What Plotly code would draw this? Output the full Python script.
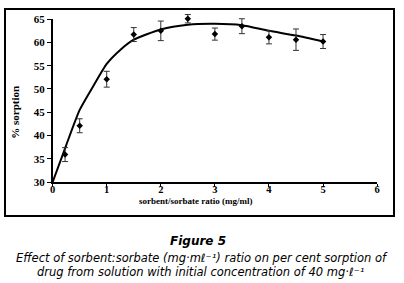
import plotly.graph_objects as go

# Data
ratio = [0.23, 0.5, 1.0, 1.5, 2.0, 2.5, 3.0, 3.5, 4.0, 4.5, 5.0]
sorption = [35.9, 42.1, 52.1, 61.7, 62.5, 65.1, 61.8, 63.5, 61.1, 60.6, 60.2]
err = [1.5, 1.5, 1.7, 1.5, 2.1, 0.9, 1.3, 1.6, 1.4, 2.3, 1.5]

fit_x = [0, 0.25, 0.5, 0.75, 1.0, 1.25, 1.5, 2.0, 2.5, 3.0, 3.5, 4.0, 4.5, 5.0]
fit_y = [30, 37.9, 45.5, 50.6, 55.4, 58.4, 60.6, 62.8, 63.8, 64.0, 63.7, 62.5, 61.5, 60.2]

x_ticks = [0, 1, 2, 3, 4, 5, 6]
y_ticks = [30, 35, 40, 45, 50, 55, 60, 65]

serif = "Liberation Serif"
sans = "DejaVu Sans"

W, H = 404, 283
# outer frame (paper area) in pixels
FL, FR, FT, FB = 3.5, 393.5, 3.5, 215
fw, fh = FR - FL, FB - FT
# plot area in pixels
PL, PR, PT, PB = 50.5, 377.5, 13, 181
Y0, Y1, YTOP = 30, 65, 66.6   # data layer extends above 65 so error bars are not cut

def px(x):
    return (x - FL) / fw

def py(y):
    return min(1.0, max(0.0, (FB - y) / fh))

ppu = (PB - PT) / (Y1 - Y0)
data_top_px = PB - (YTOP - Y0) * ppu

fig = go.Figure()
fig.add_trace(go.Scatter(
    x=fit_x, y=fit_y, mode="lines", line=dict(color="black", width=2, shape="spline", smoothing=0.6),
    hoverinfo="skip", showlegend=False, cliponaxis=False))
fig.add_trace(go.Scatter(
    x=ratio, y=sorption, mode="markers", cliponaxis=False, xaxis="x3", yaxis="y3",
    marker=dict(symbol="diamond", size=5, color="black"),
    error_y=dict(type="data", array=err, color="#333333", thickness=1, width=3),
    showlegend=False))
# empty trace so the frame subplot exists
fig.add_trace(go.Scatter(x=[None], y=[None], xaxis="x2", yaxis="y2", showlegend=False,
                         hoverinfo="skip"))

hidden = dict(visible=False, showgrid=False, zeroline=False, fixedrange=True)
fig.update_layout(
    xaxis=dict(domain=[px(PL), px(PR)], range=[0, 6], tickvals=x_ticks, showline=True,
               linecolor="black", linewidth=1.5, ticks="outside", ticklen=3, tickcolor="black",
               showgrid=False, zeroline=False, ticklabelstandoff=-6, anchor="y",
               tickfont=dict(family=serif, size=10.5, color="black", weight="bold")),
    yaxis=dict(domain=[py(PB), py(PT)], range=[Y0, Y1], tickvals=y_ticks, showline=True,
               linecolor="black", linewidth=1.5, ticks="outside", ticklen=4, tickcolor="black",
               showgrid=False, zeroline=False, anchor="x",
               tickfont=dict(family=serif, size=11, color="black", weight="bold")),
    xaxis3=dict(domain=[px(PL), px(PR)], range=[0, 6], anchor="y3", **hidden),
    yaxis3=dict(domain=[py(PB), py(data_top_px)], range=[Y0, YTOP], anchor="x3", **hidden),
    xaxis2=dict(domain=[0, 1], anchor="y2", range=[0, 1], showline=True, mirror=True,
                linecolor="black", linewidth=2, showticklabels=False, ticks="",
                showgrid=False, zeroline=False, fixedrange=True),
    yaxis2=dict(domain=[0, 1], anchor="x2", range=[0, 1], showline=True, mirror=True,
                linecolor="black", linewidth=2, showticklabels=False, ticks="",
                showgrid=False, zeroline=False, fixedrange=True),
)

def note(text, x, y, size, family, angle=0):
    fig.add_annotation(text=text, xref="paper", yref="paper", x=(x - FL) / fw, y=(FB - y) / fh,
                       xanchor="center", yanchor="middle", showarrow=False, textangle=angle,
                       font=dict(family=family, size=size, color="black"))

note("<b>sorbent/sorbate ratio (mg/ml)</b>", 194, 200.5, 9, serif)
note("<b>% sorption</b>", 13, 109, 11, serif, angle=-90)
note("<b><i>Figure 5</i></b>", 197, 242, 12, sans)
note("<i>Effect of sorbent:sorbate (mg·mℓ⁻¹) ratio on per cent sorption of</i>", 201, 259.5, 11.5, sans)
note("<i>drug from solution with initial concentration of 40 mg·ℓ⁻¹</i>", 200, 273.5, 11.5, sans)

fig.update_layout(width=W, height=H,
                  margin=dict(l=FL, r=W - FR, t=FT, b=H - FB, pad=0),
                  paper_bgcolor="white", plot_bgcolor="rgba(0,0,0,0)")

fig.write_html("out.html", post_script="document.body.style.margin='0';",
               config={"displayModeBar": False})
